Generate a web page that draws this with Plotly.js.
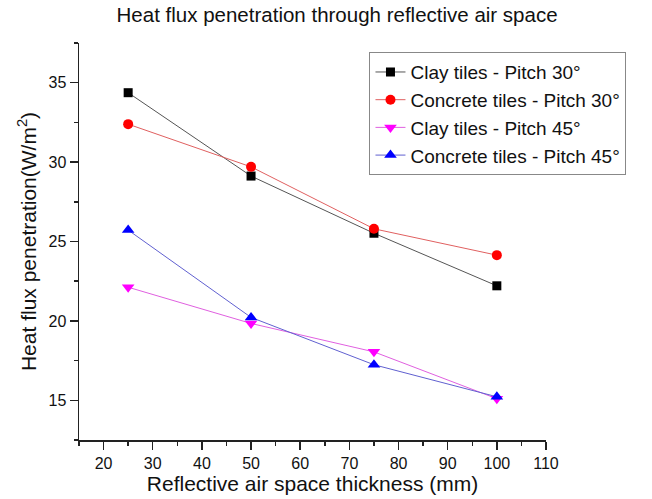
<!DOCTYPE html>
<html><head><meta charset="utf-8">
<script src="https://cdn.plot.ly/plotly-3.0.1.min.js"></script>
<style>html,body{margin:0;padding:0;background:#fff}#chart{width:652px;height:499px}</style>
</head><body><div id="chart"></div>
<script>
const thickness = [25, 50, 75, 100];
const clay30 = [34.37, 29.12, 25.52, 22.21];
const concrete30 = [32.39, 29.70, 25.80, 24.14];
const clay45 = [22.12, 19.84, 18.05, 15.10];
const concrete45 = [25.72, 20.22, 17.24, 15.22];
const seriesNames = ["Clay tiles - Pitch 30°", "Concrete tiles - Pitch 30°", "Clay tiles - Pitch 45°", "Concrete tiles - Pitch 45°"];
const xTicks = [20, 30, 40, 50, 60, 70, 80, 90, 100, 110];
const yTicks = [15, 20, 25, 30, 35];

const font = "Liberation Sans, Arial, sans-serif";
const traces = [
  {x: thickness, y: clay30, name: seriesNames[0], mode: "lines+markers",
   line: {color: "#555555", width: 1}, marker: {symbol: "square", size: 9, color: "#000000"}},
  {x: thickness, y: concrete30, name: seriesNames[1], mode: "lines+markers",
   line: {color: "#e06060", width: 1}, marker: {symbol: "circle", size: 10, color: "#ff0000"}},
  {x: thickness, y: clay45, name: seriesNames[2], mode: "lines+markers",
   line: {color: "#e060e0", width: 1}, marker: {symbol: "triangle-down", size: 11, color: "#ff00ff"}},
  {x: thickness, y: concrete45, name: seriesNames[3], mode: "lines+markers",
   line: {color: "#6060d0", width: 1}, marker: {symbol: "triangle-up", size: 11, color: "#0000ff"}}
];
const layout = {
  width: 652, height: 499,
  margin: {l: 79, r: 106, t: 43, b: 59},
  paper_bgcolor: "#fff", plot_bgcolor: "#fff",
  font: {family: font, color: "#111", size: 16},
  title: {text: "Heat flux penetration through reflective air space", x: 0.517, xanchor: "center", y: 0.985, yanchor: "top",
          font: {family: font, size: 20.5, color: "#111"}},
  xaxis: {range: [15, 110], tickvals: xTicks, ticktext: xTicks.map(String), showgrid: false, zeroline: false,
          showline: true, linecolor: "#222", linewidth: 1.5, ticks: "outside", ticklen: 8, tickwidth: 1.5, tickcolor: "#222",
          minor: {dtick: 5, ticks: "outside", ticklen: 4, tickwidth: 1.5, tickcolor: "#222"},
          tickfont: {size: 16, family: font, color: "#111"},
          title: {text: "Reflective air space thickness (mm)", font: {size: 21, family: font, color: "#111"}, standoff: 4}},
  yaxis: {range: [12.5, 37.5], tickvals: yTicks, ticktext: yTicks.map(String), showgrid: false, zeroline: false,
          showline: true, linecolor: "#222", linewidth: 1.5, ticks: "outside", ticklen: 8, tickwidth: 1.5, tickcolor: "#222",
          minor: {dtick: 2.5, ticks: "outside", ticklen: 4, tickwidth: 1.5, tickcolor: "#222"},
          tickfont: {size: 16, family: font, color: "#111"},
          title: {text: "Heat flux penetration(W/m<sup>2</sup>)", font: {size: 21, family: font, color: "#111"}, standoff: 6}},
  legend: {x: 0.622, y: 0.977, xanchor: "left", yanchor: "top", bordercolor: "#888", borderwidth: 1,
           bgcolor: "rgba(255,255,255,0)", font: {size: 19, family: font, color: "#111"}, tracegroupgap: 0},
  showlegend: true
};
Plotly.newPlot("chart", traces, layout, {displayModeBar: false, staticPlot: true});
</script></body></html>
